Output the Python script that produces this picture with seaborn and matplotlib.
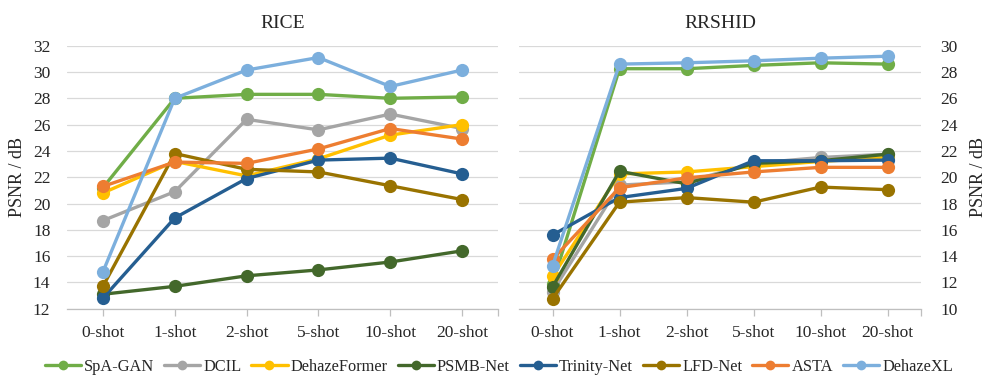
import matplotlib
matplotlib.use("Agg")
import matplotlib.pyplot as plt
import seaborn as sns
import pandas as pd
from matplotlib.ticker import FixedLocator

shots = ["0-shot", "1-shot", "2-shot", "5-shot", "10-shot", "20-shot"]
methods = ["SpA-GAN", "DCIL", "DehazeFormer", "PSMB-Net",
           "Trinity-Net", "LFD-Net", "ASTA", "DehazeXL"]
colors = ["#70AD47", "#A5A5A5", "#FFC000", "#43682B",
          "#255E91", "#997300", "#ED7D31", "#7CAFDD"]

# PSNR (dB) on RICE
rice_spagan = [21.2, 28.0, 28.3, 28.3, 28.0, 28.1]
rice_dcil = [18.7, 20.9, 26.4, 25.6, 26.8, 25.7]
rice_dehazeformer = [20.8, 23.2, 22.1, 23.4, 25.2, 26.0]
rice_psmb = [13.1, 13.7, 14.5, 14.95, 15.55, 16.4]
rice_trinity = [12.8, 18.9, 21.9, 23.3, 23.45, 22.25]
rice_lfd = [13.7, 23.8, 22.6, 22.4, 21.35, 20.3]
rice_asta = [21.3, 23.15, 23.05, 24.15, 25.7, 24.9]
rice_dehazexl = [14.8, 28.0, 30.15, 31.1, 28.9, 30.15]

# PSNR (dB) on RRSHID
rrshid_spagan = [11.9, 28.25, 28.25, 28.5, 28.7, 28.6]
rrshid_dcil = [11.3, 19.4, 19.65, 21.05, 21.5, 21.75]
rrshid_dehazeformer = [12.45, 20.25, 20.4, 20.8, 21.2, 21.5]
rrshid_psmb = [11.65, 20.45, 19.5, 21.05, 21.25, 21.75]
rrshid_trinity = [15.6, 18.45, 19.15, 21.25, 21.25, 21.3]
rrshid_lfd = [10.75, 18.1, 18.45, 18.1, 19.25, 19.05]
rrshid_asta = [13.75, 19.2, 19.95, 20.4, 20.75, 20.75]
rrshid_dehazexl = [13.25, 28.6, 28.7, 28.85, 29.05, 29.2]

rice = [rice_spagan, rice_dcil, rice_dehazeformer, rice_psmb,
        rice_trinity, rice_lfd, rice_asta, rice_dehazexl]
rrshid = [rrshid_spagan, rrshid_dcil, rrshid_dehazeformer, rrshid_psmb,
          rrshid_trinity, rrshid_lfd, rrshid_asta, rrshid_dehazexl]


def to_frame(series):
    rows = []
    for name, vals in zip(methods, series):
        for s, v in zip(shots, vals):
            rows.append({"shot": s, "psnr": v, "method": name})
    return pd.DataFrame(rows)


sns.set_theme(style="white")
plt.rcParams["font.family"] = ["Liberation Serif", "DejaVu Serif"]

fig = plt.figure(figsize=(9.88, 3.81), dpi=100)
ax_l = fig.add_axes([67 / 988, 72.3 / 381, 431 / 988, 263 / 381])
ax_r = fig.add_axes([519 / 988, 72.3 / 381, 402 / 988, 263 / 381])

panels = [(ax_l, rice, "RICE", (12, 32)), (ax_r, rrshid, "RRSHID", (10, 30))]
palette = dict(zip(methods, colors))

for ax, data, title, (lo, hi) in panels:
    df = to_frame(data)
    sns.lineplot(data=df, x="shot", y="psnr", hue="method", hue_order=methods,
                 palette=palette, marker="o", markersize=9.5,
                 markeredgewidth=0, linewidth=2.4, ax=ax, sort=False)
    ax.set_xlim(-0.5, 5.5)
    ax.set_ylim(lo, hi)
    ax.set_yticks(range(lo, hi + 1, 2))
    ax.grid(axis="y", color="#d9d9d9", linewidth=0.9)
    ax.set_axisbelow(True)
    for side in ("top", "left", "right"):
        ax.spines[side].set_visible(False)
    ax.spines["bottom"].set_color("#bfbfbf")
    ax.spines["bottom"].set_linewidth(0.9)
    ax.xaxis.set_minor_locator(FixedLocator([5.5]))
    ax.tick_params(axis="x", which="both", bottom=True, length=5,
                   color="#bfbfbf", width=0.9, pad=7, labelsize=12.5)
    ax.tick_params(axis="y", length=0, labelsize=12.5, pad=12)
    ax.set_xlabel("")
    ax.set_title(title, fontsize=14, pad=13)
    ax.get_legend().remove()

ax_l.set_ylabel("PSNR / dB", fontsize=13, labelpad=5)
ax_r.set_ylabel("PSNR / dB", fontsize=13, labelpad=9)
ax_r.yaxis.set_label_position("right")
ax_r.yaxis.tick_right()
ax_r.tick_params(axis="y", length=0, pad=14)

handles, labels = ax_l.get_legend_handles_labels()
for h in handles:
    h.set_markersize(7)
fig.legend(handles, labels, loc="center", bbox_to_anchor=(0.505, 14 / 381),
           ncol=8, frameon=False, fontsize=11.8, handlelength=2.2,
           handletextpad=0.2, columnspacing=0.6)

fig.savefig("out.png", dpi=100)
